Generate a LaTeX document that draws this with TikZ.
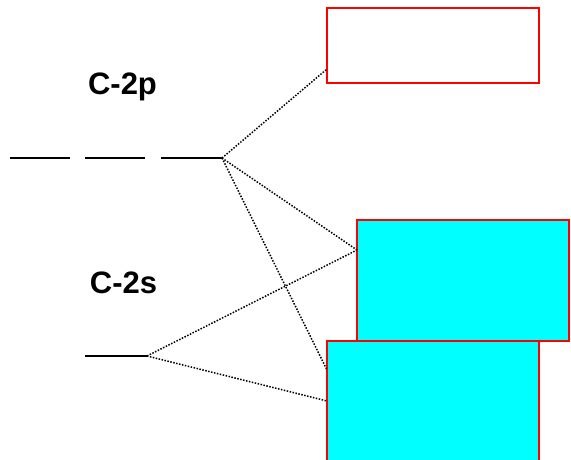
\documentclass[tikz,border=0pt]{standalone}
\usepackage{fontspec}
\setmainfont{Liberation Sans}
\definecolor{aqua}{RGB}{0,255,255}
\definecolor{pure red}{RGB}{255,0,0}
\begin{document}
\begin{tikzpicture}[x=1pt,y=-1pt,
  level/.style={line width=2pt},
  conn/.style={line width=1.5pt, dash pattern=on 1.5pt off 1.5pt},
  orbbox/.style={draw=pure red, line width=2pt, inner sep=0pt, minimum width=212pt},
  lbl/.style={font=\bfseries\fontsize{31}{37}\selectfont, anchor=base, inner sep=0pt}]
\useasboundingbox (0,0) rectangle (571,460);
% labels
\node[lbl] (l2p) at (122.5,95) {C-2p};
\node[lbl] (l2s) at (123.5,293) {C-2s};
% level lines
\coordinate (pa1) at (10,158);  \coordinate (pa2) at (70,158);
\coordinate (pb1) at (85,158);  \coordinate (pb2) at (145,158);
\coordinate (pc1) at (161,158); \coordinate (pc2) at (222,158);
\coordinate (s1) at (85,356);   \coordinate (s2) at (147,356);
\draw[level] (pa1) -- (pa2);
\draw[level] (pb1) -- (pb2);
\draw[level] (pc1) -- (pc2);
\draw[level] (s1) -- (s2);
% boxes
\node[orbbox, fill=white, minimum height=75pt] (top) at (433,45.5) {};
\node[orbbox, fill=aqua, minimum height=121pt] (mid) at (463,280.5) {};
\node[orbbox, fill=aqua, minimum height=121pt] (bot) at (433,401.5) {};
% connector end points on box edges
\coordinate (topin) at (327,69);
\coordinate (midin) at (357,250);
\coordinate (botin1) at (327,370);
\coordinate (botin2) at (327,401);
% connectors
\draw[conn] (pc2) -- (topin);
\draw[conn] (pc2) -- (midin);
\draw[conn] (pc2) -- (botin1);
\draw[conn] (s2) -- (midin);
\draw[conn] (s2) -- (botin2);
\end{tikzpicture}
\end{document}
